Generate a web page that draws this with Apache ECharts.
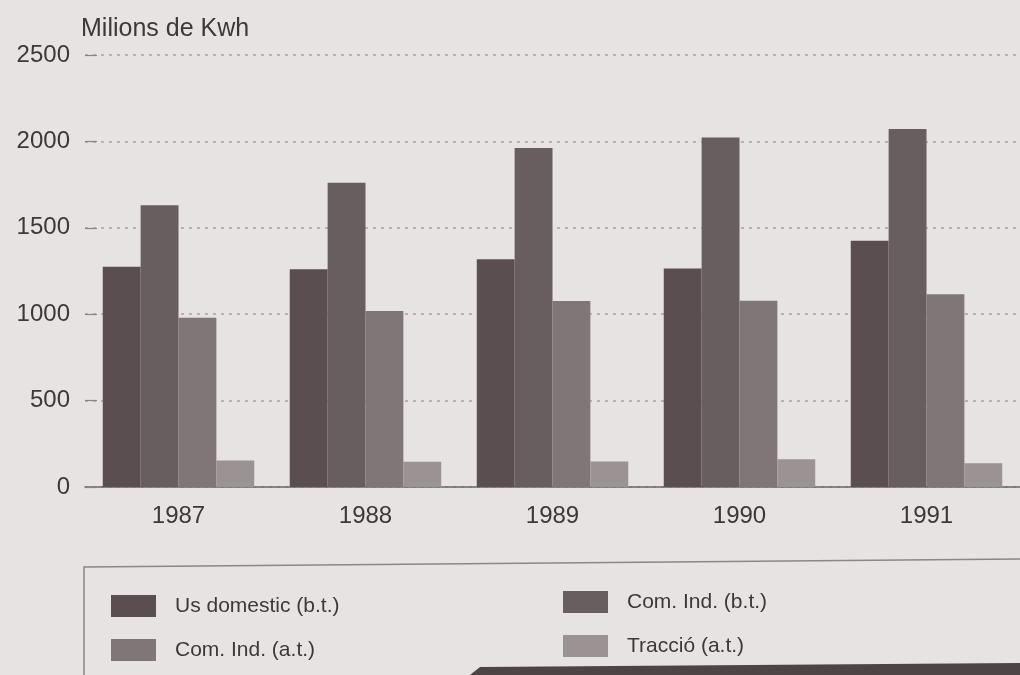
<!DOCTYPE html>
<html>
<head>
<meta charset="utf-8">
<script src="https://cdn.jsdelivr.net/npm/echarts@6/dist/echarts.min.js"></script>
<style>
html,body{margin:0;padding:0;background:#e7e3e3;}
#chart{width:1020px;height:675px;}
</style>
</head>
<body>
<div id="chart"></div>
<script>
const years = ['1987', '1988', '1989', '1990', '1991'];
const seriesNames = ['Us domestic (b.t.)', 'Com. Ind. (b.t.)', 'Com. Ind. (a.t.)', 'Tracció (a.t.)'];
const usDomesticBT = [1275, 1260, 1318, 1265, 1425];
const comIndBT = [1630, 1760, 1962, 2023, 2072];
const comIndAT = [980, 1018, 1076, 1078, 1115];
const traccioAT = [153, 146, 148, 160, 138];
const yTicks = [0, 500, 1000, 1500, 2000, 2500];
const yAxisTitle = 'Milions de Kwh';

const colors = ['#5a4e50', '#685d5f', '#807677', '#9b9294'];
const values = [usDomesticBT, comIndBT, comIndAT, traccioAT];

const chart = echarts.init(document.getElementById('chart'));
const font = '"Liberation Sans", Arial, sans-serif';

chart.setOption({
  backgroundColor: '#e7e3e3',
  animation: false,
  grid: { left: 85, top: 55, width: 945, height: 432, containLabel: false },
  xAxis: {
    type: 'category',
    data: years,
    axisLine: { show: true, lineStyle: { color: '#6e6668', width: 1.5 } },
    axisTick: { show: false },
    axisLabel: { fontSize: 24, color: '#3f3739', fontFamily: font, margin: 17 }
  },
  yAxis: {
    type: 'value',
    min: yTicks[0],
    max: yTicks[yTicks.length - 1],
    interval: 500,
    name: yAxisTitle,
    nameLocation: 'end',
    nameGap: 13,
    nameTextStyle: { fontSize: 25, color: '#3f3739', fontFamily: font, align: 'left', padding: [0, 0, 0, -4] },
    axisLine: { show: false },
    axisTick: { show: true, inside: true, length: 12, lineStyle: { color: '#8a8284', width: 1.2 } },
    axisLabel: { fontSize: 24, color: '#3f3739', fontFamily: font, margin: 15, formatter: v => String(v) },
    splitLine: { show: true, lineStyle: { color: '#aaa3a4', type: [3, 5], width: 1.5 } }
  },
  legend: [
    {
      orient: 'vertical', left: 106, top: 590, itemWidth: 45, itemHeight: 22, itemGap: 22,
      icon: 'rect',
      textStyle: { fontSize: 21, color: '#3f3739', fontFamily: font, padding: [0, 0, 0, 14] },
      data: [seriesNames[0], seriesNames[2]]
    },
    {
      orient: 'vertical', left: 558, top: 586, itemWidth: 45, itemHeight: 22, itemGap: 22,
      icon: 'rect',
      textStyle: { fontSize: 21, color: '#3f3739', fontFamily: font, padding: [0, 0, 0, 14] },
      data: [seriesNames[1], seriesNames[3]]
    }
  ],
  graphic: [
    { type: 'polyline', shape: { points: [[84, 675], [84, 567], [1020, 559]] }, style: { stroke: '#8d8587', lineWidth: 1.5, fill: null } },
    { type: 'polygon', shape: { points: [[470, 675], [480, 667], [1020, 663], [1020, 675]] }, style: { fill: '#4e4446' } }
  ],
  series: seriesNames.map((n, i) => ({
    name: n,
    type: 'bar',
    data: values[i],
    barGap: '0%',
    barCategoryGap: '19%',
    itemStyle: { color: colors[i] }
  }))
});
</script>
</body>
</html>
